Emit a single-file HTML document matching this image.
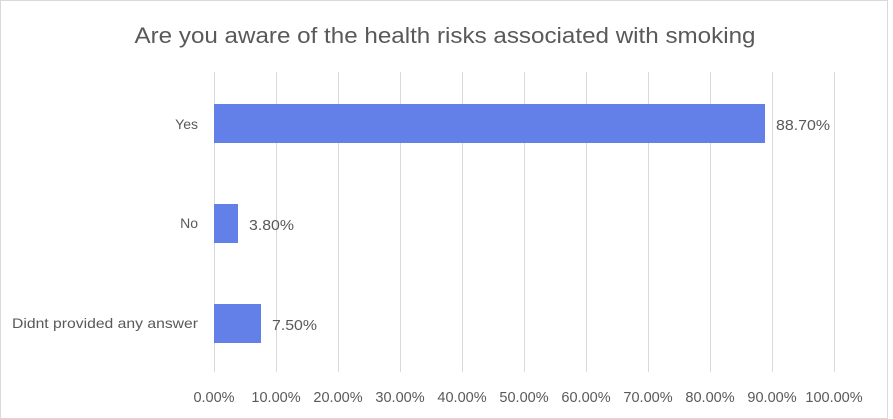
<!DOCTYPE html>
<html><head><meta charset="utf-8"><style>
html,body{margin:0;padding:0;background:#fff;}
svg{display:block;font-family:"Liberation Sans",sans-serif;}
</style></head><body>
<svg width="893" height="419" viewBox="0 0 893 419" xmlns="http://www.w3.org/2000/svg">
<rect x="0.5" y="0.5" width="887" height="418" fill="#fff" stroke="#d9d9d9"/>
<text x="445" y="43" font-size="22" fill="#595959" text-anchor="middle" textLength="621" lengthAdjust="spacingAndGlyphs">Are you aware of the health risks associated with smoking</text>
<g stroke="#d9d9d9" stroke-width="1">
<line x1="214.5" y1="72" x2="214.5" y2="372"/>
<line x1="276.5" y1="72" x2="276.5" y2="372"/>
<line x1="338.5" y1="72" x2="338.5" y2="372"/>
<line x1="400.5" y1="72" x2="400.5" y2="372"/>
<line x1="462.5" y1="72" x2="462.5" y2="372"/>
<line x1="524.5" y1="72" x2="524.5" y2="372"/>
<line x1="586.5" y1="72" x2="586.5" y2="372"/>
<line x1="648.5" y1="72" x2="648.5" y2="372"/>
<line x1="710.5" y1="72" x2="710.5" y2="372"/>
<line x1="772.5" y1="72" x2="772.5" y2="372"/>
<line x1="834.5" y1="72" x2="834.5" y2="372"/>
</g>
<g fill="#6380e8">
<rect x="214" y="104" width="551" height="39"/>
<rect x="214" y="204" width="24" height="39"/>
<rect x="214" y="304" width="47" height="39"/>
</g>
<g font-size="15" fill="#595959">
<text x="776" y="130" textLength="54" lengthAdjust="spacingAndGlyphs">88.70%</text>
<text x="249" y="230" textLength="45" lengthAdjust="spacingAndGlyphs">3.80%</text>
<text x="272" y="330" textLength="45" lengthAdjust="spacingAndGlyphs">7.50%</text>
<g text-anchor="end" font-size="14">
<text x="198" y="129">Yes</text>
<text x="198" y="228">No</text>
<text x="198" y="328" textLength="186" lengthAdjust="spacingAndGlyphs">Didnt provided any answer</text>
</g>
<g text-anchor="middle" font-size="14.5">
<text x="214" y="402">0.00%</text>
<text x="276" y="402">10.00%</text>
<text x="338" y="402">20.00%</text>
<text x="400" y="402">30.00%</text>
<text x="462" y="402">40.00%</text>
<text x="524" y="402">50.00%</text>
<text x="586" y="402">60.00%</text>
<text x="648" y="402">70.00%</text>
<text x="710" y="402">80.00%</text>
<text x="772" y="402">90.00%</text>
<text x="834" y="402">100.00%</text>
</g>
</g>
</svg>
</body></html>
